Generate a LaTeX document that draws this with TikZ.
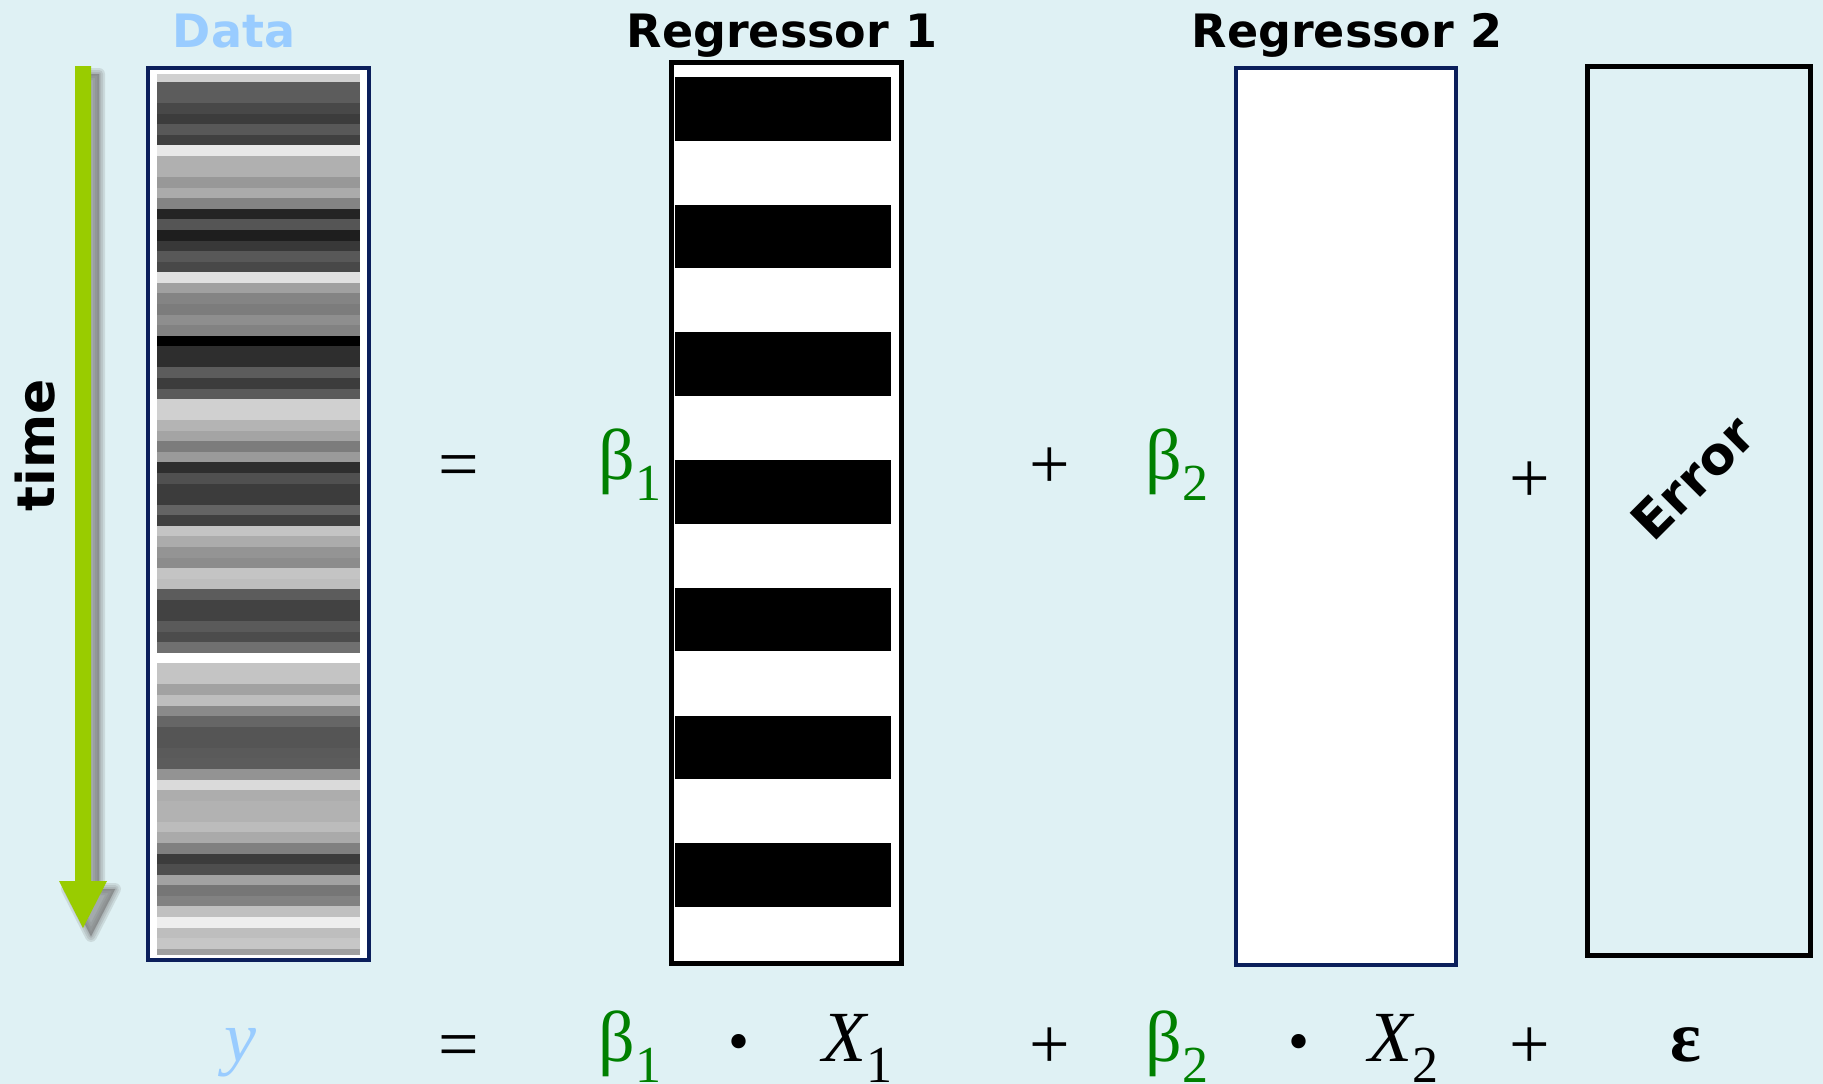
\documentclass[tikz,border=0pt]{standalone}
\usepackage{fontspec}
\setmainfont{DejaVu Sans}
\newfontfamily\greekfont{Liberation Serif}
\usepackage{xcolor}
\definecolor{paper}{HTML}{DFF1F4}
\definecolor{navy}{HTML}{0B1F5B}
\definecolor{skyblue}{HTML}{99CCFF}
\definecolor{betagreen}{HTML}{008000}
\definecolor{timegreen}{HTML}{99CC00}
\usepackage{tikz}
\usetikzlibrary{positioning,calc}
\newcommand\subidx[1]{\raisebox{-21pt}{\upshape\fontsize{52}{52}\selectfont #1}}
\newcommand\betasub[1]{{\color{betagreen}β\subidx{#1}}}
\tikzset{
  colbox/.style={draw=navy,line width=4pt,fill=white,inner sep=0pt},
  regbox/.style={colbox,draw=black,line width=5pt},
  errbox/.style={regbox,fill=none},
  toplbl/.style={font=\bfseries\fontsize{46}{46}\selectfont,anchor=base,inner sep=0pt},
  sidelbl/.style={font=\bfseries\fontsize{52}{52}\selectfont,inner sep=0pt},
  sym/.style={font=\greekfont\fontsize{72}{72}\selectfont,anchor=base,inner sep=0pt},
  dot/.style={sym,font=\greekfont\fontsize{60}{60}\selectfont},
  arrowshadow/.style={draw=black!55,fill=black!55,opacity=.18,line join=round}}

\begin{document}
\begin{tikzpicture}[x=1pt,y=-1pt]
  \fill[paper] (0,0) rectangle (1823,1084);
  \useasboundingbox (0,0) rectangle (1823,1084);
  \foreach \b in {12,8,4,1}
    \filldraw[arrowshadow,line width=\b pt,shift={(8,8)}] (75,66) -- (91,66) -- (91,881) -- (107,881) -- (83,928) -- (59,881) -- (75,881) -- cycle;
  \fill[timegreen] (75,66) -- (91,66) -- (91,881) -- (107,881) -- (83,928) -- (59,881) -- (75,881) -- cycle;
  \node[sidelbl,rotate=90] (tm) at (35,445) {time};

  \node[colbox,minimum width=221pt,minimum height=892pt] (data) at (258.5,514) {};
  \begin{scope}
    \clip (157,74) rectangle (360,954);
    \foreach \g [count=\i] in {208,92,92,72,60,88,64,232,176,176,152,171,132,36,85,30,
        56,88,72,224,160,132,124,142,130,0,46,46,92,60,90,208,208,180,164,124,154,46,80,60,
        60,100,64,196,172,148,140,196,190,92,66,66,90,76,112,255,196,196,162,190,138,
        102,85,85,90,92,147,218,173,178,178,188,170,128,60,78,162,118,130,192,238,190,198,160}{
      \definecolor{strip}{RGB}{\g,\g,\g}
      \fill[strip] (157,{71.4+(\i-1)*10.57}) rectangle (360,{72+\i*10.57});
    }
  \end{scope}
  \node[regbox,minimum width=230pt,minimum height=901pt] (reg1) at (786.5,513) {};
  \foreach \k in {0,...,6}
    \fill[black] (675,{77+\k*127.7}) rectangle (891,{140.5+\k*127.7});
  \node[colbox,minimum width=220pt,minimum height=897pt] (reg2) at (1346,516.5) {};
  \node[errbox,minimum width=223pt,minimum height=889pt] (err) at (1699,511) {};
  \node[sidelbl,rotate=45] (et) at (1693,478) {Error};

  \node[toplbl,text=skyblue] (td) at (234,47) {Data};
  \node[toplbl] (t1) at (782,47) {Regressor 1};
  \node[toplbl] (t2) at (1347,47) {Regressor 2};

  \node[sym] (eqa) at (459,488) {=};
  \node[sym] (b1a) at (630,479) {\betasub{1}};
  \node[sym] (pla) at (1050,488) {+};
  \node[sym] (b2a) at (1177,479) {\betasub{2}};
  \node[sym] (plb) at (1530,502) {+};

  \node[sym,text=skyblue] (yv) at (240,1061) {\itshape y};
  \node[sym] (eqb) at (459,1068) {=};
  \node[sym] (b1b) at (630,1061) {\betasub{1}};
  \node[dot] (da) at (739,1061) {•};
  \node[sym] (x1) at (857,1061) {\itshape X\subidx{1}};
  \node[sym] (plc) at (1050,1068) {+};
  \node[sym] (b2b) at (1177,1061) {\betasub{2}};
  \node[dot] (db) at (1299,1061) {•};
  \node[sym] (x2) at (1403,1061) {\itshape X\subidx{2}};
  \node[sym] (pld) at (1530,1068) {+};
  \node[sym] (ep) at (1686,1061) {\bfseries ε};
\end{tikzpicture}
\end{document}
